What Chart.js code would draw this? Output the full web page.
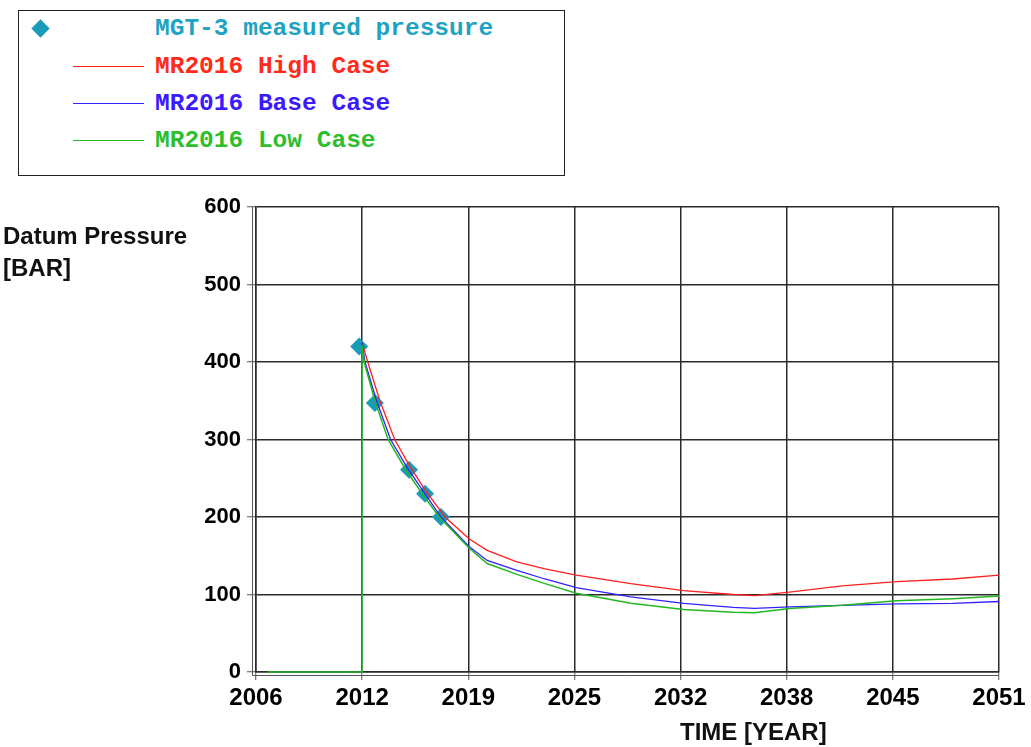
<!DOCTYPE html>
<html>
<head>
<meta charset="utf-8">
<script src="https://cdn.jsdelivr.net/npm/chart.js@4"></script>
<style>
  html, body { margin: 0; padding: 0; background: #fff; }
  #wrap { position: relative; width: 1031px; height: 747px; overflow: hidden; }
  #chart { position: absolute; left: 0; top: 0; }
  #legend { position: absolute; left: 18px; top: 10px; width: 545px; height: 164px;
            border: 1px solid #222; background: #fff; box-sizing: content-box; }
  .row { position: absolute; left: 0; height: 30px; width: 545px; }
  .row .txt { position: absolute; left: 136px; top: 0; line-height: 30px;
              font-family: 'Liberation Mono', 'Courier New', monospace; font-weight: bold; font-size: 24.5px; white-space: nowrap; }
  .row .sample { position: absolute; left: 54px; top: 14px; width: 71px; height: 0; border-top: 1.5px solid; }
  .row .diamond { position: absolute; left: 15px; top: 8px; width: 13px; height: 13px; transform: rotate(45deg); }
  .axtitle { position: absolute; font-family: 'Liberation Sans', Arial, sans-serif; font-weight: bold; color: #111; white-space: nowrap; }
</style>
</head>
<body>
<div id="wrap">
  <canvas id="chart" width="1031" height="747"></canvas>
  <div id="legend"></div>
  <div class="axtitle" style="left:3px; top:220px; font-size:24px; line-height:32px;">Datum Pressure<br>[BAR]</div>
  <div class="axtitle" id="xtitle" style="left:680px; top:716px; font-size:24px; line-height:32px;">TIME [YEAR]</div>
</div>
<script>
// ---- Data ----
const xTickLabels = ['2006', '2012', '2019', '2025', '2032', '2038', '2045', '2051'];
const yTickValues = [0, 100, 200, 300, 400, 500, 600];

const seriesNames = ['MGT-3 measured pressure', 'MR2016 High Case', 'MR2016 Base Case', 'MR2016 Low Case'];
const seriesColors = ['#1a9bb8', '#ff2020', '#3322ff', '#22b822'];
const legendTextColors = ['#1ea3c2', '#ff2a1a', '#3a1aff', '#2dbe2d'];

const measuredYears    = [2012.25, 2013.2, 2015.27, 2016.24, 2017.2];
const measuredPressure = [420, 347, 261, 230, 200];

const highYears  = [2012.42, 2012.77, 2013.5, 2014.4, 2015.3, 2016.3, 2017.45, 2018.9, 2020.0, 2021.8, 2023.5, 2025.4, 2028.7, 2031.9, 2034.9, 2036.2, 2038.3, 2041.5, 2044.8, 2048.2, 2051.0];
const highValues = [425, 400, 350, 300, 266, 233, 200, 172, 157, 142, 133, 125, 114, 105, 100, 98.5, 103, 111, 116.5, 120, 125];

const baseYears  = [2012.42, 2012.6, 2013.3, 2014.15, 2015.2, 2016.2, 2017.2, 2018.9, 2020.0, 2021.8, 2023.5, 2025.4, 2028.7, 2031.9, 2034.9, 2036.2, 2038.3, 2041.5, 2044.8, 2048.2, 2051.0];
const baseValues = [425, 400, 350, 300, 262, 231, 200, 162, 144, 131, 120, 109, 97, 88.6, 83.4, 82, 84, 86, 88, 88.5, 91];

const lowYears  = [2006.7, 2012.42, 2012.42, 2012.55, 2013.2, 2014.0, 2015.1, 2016.1, 2017.1, 2018.9, 2020.0, 2021.8, 2023.5, 2025.4, 2028.7, 2031.9, 2034.9, 2036.2, 2038.3, 2041.5, 2044.8, 2048.2, 2051.0];
const lowValues = [0, 0, 422, 400, 350, 300, 260, 229, 200, 160, 140, 126, 114, 101.5, 88.6, 80.8, 77, 76.5, 82, 86, 92, 94.6, 98];

// ---- Build ----
const pts = (xs, ys) => xs.map((x, i) => ({ x: x, y: ys[i] }));

const xMin = Number(xTickLabels[0]);
const xMax = Number(xTickLabels[xTickLabels.length - 1]);

// legend (HTML, from series arrays)
const legend = document.getElementById('legend');
const rowTops = [3, 41, 78, 115];
seriesNames.forEach((name, i) => {
  const row = document.createElement('div');
  row.className = 'row';
  row.style.top = rowTops[i] + 'px';
  const mark = document.createElement('div');
  if (i === 0) { mark.className = 'diamond'; mark.style.background = seriesColors[i]; }
  else { mark.className = 'sample'; mark.style.borderTopColor = seriesColors[i]; }
  row.appendChild(mark);
  const t = document.createElement('div');
  t.className = 'txt';
  t.style.color = legendTextColors[i];
  t.textContent = name;
  row.appendChild(t);
  legend.appendChild(row);
});

const offsetAxes = {
  id: 'offsetAxes',
  afterDraw(chart) {
    const { ctx, chartArea: a } = chart;
    ctx.save();
    ctx.strokeStyle = '#555';
    ctx.lineWidth = 1;
    ctx.beginPath();
    ctx.moveTo(a.left - 3.5, a.top);
    ctx.lineTo(a.left - 3.5, a.bottom + 3.5);
    ctx.lineTo(a.right, a.bottom + 3.5);
    ctx.stroke();
    ctx.restore();
  }
};

new Chart(document.getElementById('chart'), {
  type: 'scatter',
  data: {
    datasets: [
      { label: seriesNames[0], data: pts(measuredYears, measuredPressure), showLine: false,
        pointStyle: 'rectRot', pointRadius: 9, pointHoverRadius: 9, backgroundColor: seriesColors[0],
        borderColor: seriesColors[0], borderWidth: 0, order: 10 },
      { label: seriesNames[1], data: pts(highYears, highValues), showLine: true, pointRadius: 0,
        borderColor: seriesColors[1], borderWidth: 1.3, tension: 0, order: 3 },
      { label: seriesNames[2], data: pts(baseYears, baseValues), showLine: true, pointRadius: 0,
        borderColor: seriesColors[2], borderWidth: 1.3, tension: 0, order: 2 },
      { label: seriesNames[3], data: pts(lowYears, lowValues), showLine: true, pointRadius: 0,
        borderColor: seriesColors[3], borderWidth: 1.5, tension: 0, order: 1, clip: 3 }
    ]
  },
  options: {
    responsive: false,
    animation: false,
    layout: { padding: { left: 0, right: 32, top: 207, bottom: 0 } },
    plugins: { legend: { display: false }, tooltip: { enabled: false } },
    scales: {
      x: {
        type: 'linear', min: xMin, max: xMax,
        afterFit: s => { s.height = 75; },
        afterBuildTicks: s => {
          s.ticks = xTickLabels.map((_, i) => ({ value: xMin + i * (xMax - xMin) / (xTickLabels.length - 1) }));
        },
        ticks: {
          autoSkip: false, maxRotation: 0, padding: 4,
          color: '#000',
          font: { family: "'Liberation Sans', Arial, sans-serif", weight: 'bold', size: 24 },
          callback: (v, i) => xTickLabels[i]
        },
        grid: { color: '#2a2a2a', lineWidth: 1.5, tickLength: 8, tickColor: '#555', tickWidth: 1 },
        border: { color: '#2a2a2a', width: 1.5 }
      },
      y: {
        type: 'linear', min: yTickValues[0], max: yTickValues[yTickValues.length - 1],
        afterFit: s => { s.width = 256; },
        afterBuildTicks: s => { s.ticks = yTickValues.map(v => ({ value: v })); },
        ticks: {
          padding: 6, color: '#000',
          font: { family: "'Liberation Sans', Arial, sans-serif", weight: 'bold', size: 22 }
        },
        grid: { color: '#2a2a2a', lineWidth: 1.5, tickLength: 9, tickColor: '#555', tickWidth: 1 },
        border: { color: '#2a2a2a', width: 1.5 }
      }
    }
  },
  plugins: [offsetAxes]
});
</script>
</body>
</html>
